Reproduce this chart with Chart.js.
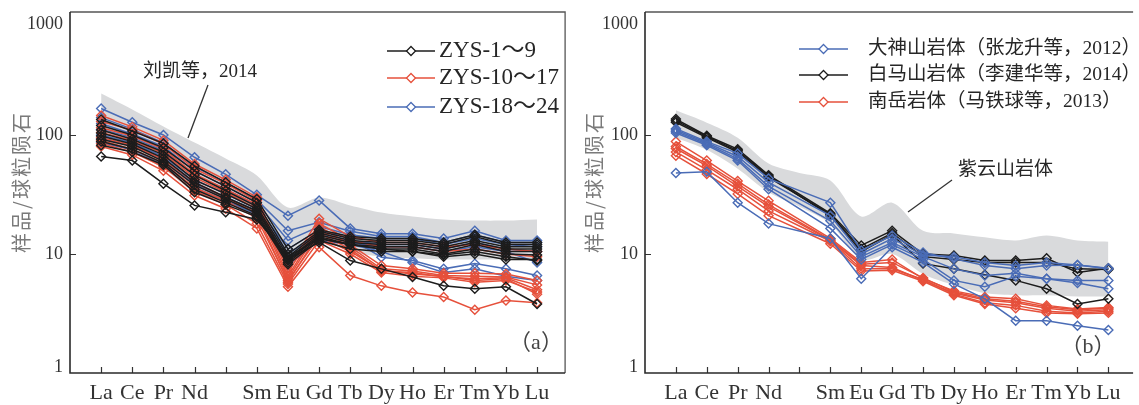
<!DOCTYPE html>
<html>
<head>
<meta charset="utf-8">
<script src="https://cdn.jsdelivr.net/npm/chart.js@4.4.1/dist/chart.umd.min.js"></script>
<style>
  html, body { margin: 0; padding: 0; background: #fff; }
  #wrap { position: relative; width: 1139px; height: 405px; overflow: hidden; }
  .panel { position: absolute; top: 0; height: 405px; }
</style>
</head>
<body>
<div id="wrap">
  <div class="panel" style="left:0;width:571px"><canvas id="chartA"></canvas></div>
  <div class="panel" style="left:571px;width:568px"><canvas id="chartB"></canvas></div>
</div>
<script>
// REE order on the x axis (Pm gets a tick but no label)
const ree = ['La', 'Ce', 'Pr', 'Nd', 'Pm', 'Sm', 'Eu', 'Gd', 'Tb', 'Dy', 'Ho', 'Er', 'Tm', 'Yb', 'Lu'];
const tickNames = ['La', 'Ce', 'Pr', 'Nd', '', 'Sm', 'Eu', 'Gd', 'Tb', 'Dy', 'Ho', 'Er', 'Tm', 'Yb', 'Lu'];
const yTicks = [1, 10, 100, 1000];
const posAll = [0, 1, 2, 3, 4, 5, 6, 7, 8, 9, 10, 11, 12, 13, 14];
const posNoPm = [0, 1, 2, 3, 5, 6, 7, 8, 9, 10, 11, 12, 13, 14];

// (a) ZYS samples, La..Lu incl. Pm
const zys1to9 = [
  [135, 108, 85, 55, 40, 29, 11, 16, 14, 13.5, 13.5, 12.5, 14.5, 12.5, 12.5],
  [120, 100, 78, 50, 37, 27, 10, 15.5, 13.5, 13, 13, 12, 14, 12, 12],
  [110, 92, 72, 46, 34, 25, 9.5, 15, 13, 12.5, 12.5, 11.5, 13, 11.5, 11.5],
  [104, 88, 68, 42, 32, 24, 9, 14.5, 12.5, 12, 12, 11, 12.5, 11, 11],
  [98, 84, 64, 40, 30, 23, 8.8, 14, 12, 11.5, 11.5, 10.5, 12, 10.5, 10.5],
  [92, 80, 60, 38, 29, 22, 8.5, 13.5, 12, 11, 11, 10, 11, 10, 9.8],
  [88, 76, 58, 35, 27, 21, 8.2, 13, 11, 10.5, 10.5, 9.5, 10, 9, 9],
  [82, 72, 56, 33, 26, 20.5, 9, 12.5, 8.8, 7.5, 6.4, 5.4, 5.1, 5.3, 3.8],
  [66, 61, 39, 25.6, 22.4, 19.5, 9.5, 13.5, 12, 11, 10.5, 9.8, 10.5, 9.5, 8.8]
];
const zys10to17 = [
  [146, 117, 90, 57, 42, 30, 7.5, 19.8, 14, 12.5, 12.5, 11.5, 12, 11, 10.5],
  [130, 110, 84, 52, 39, 28, 7, 18, 13, 11.5, 11.5, 10.5, 11, 10, 9.5],
  [115, 98, 76, 47, 35, 26, 6.5, 17, 12, 8, 7.5, 6.9, 6.9, 6.8, 6.0],
  [105, 90, 70, 44, 33, 24, 6.2, 16, 11.5, 7.5, 7.2, 6.6, 6.5, 6.4, 5.5],
  [95, 82, 62, 40, 30, 22, 5.8, 15, 11, 7.2, 7, 6.4, 6.2, 6.3, 5.0],
  [90, 76, 58, 36, 28, 20, 6, 14, 10.5, 7.3, 6.8, 6.5, 6.0, 6.2, 4.6],
  [85, 72, 54, 34, 26, 18, 5.6, 13, 10, 7.0, 6.5, 6.3, 5.8, 6.0, 4.8],
  [80, 68, 50, 31, 24, 16.4, 5.3, 11.4, 6.6, 5.4, 4.75, 4.35, 3.4, 4.06, 3.9]
];
const zys18to24 = [
  [167, 128, 100, 65, 46.7, 31.4, 21, 28.2, 16.4, 14.8, 14.8, 13.5, 15.7, 13, 13],
  [140, 112, 86, 54, 40, 28.5, 15.7, 18.5, 15.5, 14, 14, 12.5, 14.5, 12.5, 12.5],
  [125, 102, 80, 50, 37, 27, 13, 17, 14.5, 13.5, 13.5, 12, 13.5, 12, 11.5],
  [112, 95, 74, 46, 35, 25.5, 11, 16, 13.5, 9.4, 8.8, 7.5, 8.3, 7.5, 6.6],
  [100, 86, 66, 42, 32, 24, 10, 15, 13, 12, 12, 11, 12.5, 11, 10.5],
  [94, 82, 62, 39, 30, 23, 9, 14.5, 12.5, 11.5, 11.5, 10.5, 11.5, 10.5, 8.5],
  [86, 75, 57, 36, 28, 21.5, 8, 13, 12, 10.5, 8.5, 7, 7.5, 6.5, 6.0]
];
// 刘凯等 (2014) range
const liuLow = [90, 72, 52, 33, 26, 20, 8.5, 13, 10.5, 9.5, 9.2, 9, 9, 9, 9];
const liuHigh = [223, 164, 118, 86.5, 63.5, 45.7, 24.6, 29.8, 25.6, 22.3, 20.7, 19.5, 19.1, 19.1, 19.5];

// (b) regional plutons, La..Lu without Pm
const dashenshan = [
  [113, 88, 70, 43, 27, 10.7, 14.3, 10.3, 9.1, 8.0, 7.5, 8.0, 8.1, 7.5],
  [110, 86, 66, 40, 21, 10, 13.5, 9.8, 9.5, 8.5, 8.0, 8.5, 8.1, 7.6],
  [107, 84, 63, 37, 19, 9.5, 12.5, 9.5, 7.5, 6.6, 6.9, 6.2, 6.0, 6.0],
  [104, 82, 61, 35, 16.4, 9, 12, 9.0, 6.0, 5.3, 6.5, 6.2, 5.7, 5.1],
  [48, 49, 27, 18, 13.5, 6.2, 11.4, 8.5, 5.6, 4.2, 2.75, 2.75, 2.5, 2.3]
];
const baimashan = [
  [136, 98.5, 76, 46, 22, 11.8, 15.7, 10, 9.7, 8.8, 8.8, 9.2, 7.0, 7.6],
  [128, 95, 72, 44, 21.5, 11, 15, 9.5, 9.0, 8.5, 8.5, 8.5, 7.5, 7.4],
  [132, 97, 74, 45, 21, 10.5, 14.5, 8.3, 7.5, 6.7, 6.0, 5.1, 3.8, 4.2]
];
const nanyue = [
  [88, 61, 41, 28, 13.5, 8.5, 9.0, 6.2, 4.9, 4.35, 4.2, 3.7, 3.45, 3.55],
  [80, 57, 39, 26, 13.2, 8.2, 8.5, 6.3, 4.8, 4.2, 4.0, 3.6, 3.4, 3.5],
  [77, 55, 37, 25, 13, 8.0, 7.7, 6.0, 4.7, 4.1, 3.9, 3.5, 3.3, 3.4],
  [72, 51, 35, 23, 12.8, 7.5, 7.5, 6.1, 4.6, 3.9, 3.7, 3.3, 3.2, 3.3],
  [67, 47, 32, 21, 12.2, 7.2, 7.3, 5.9, 4.5, 3.8, 3.5, 3.2, 3.15, 3.2]
];
// 紫云山岩体 range
const ziyunLow = [95, 75, 52, 33, 25, 18, 9, 10, 6.8, 5.5, 4.7, 4.5, 4.5, 4.4, 4.4];
const ziyunHigh = [161, 127, 95, 57.6, 48, 41.5, 20.7, 27, 15.7, 14.9, 13.8, 13.0, 14.3, 13.0, 12.7];

const BLACK = '#1c1c1c', RED = '#e6503b', BLUE = '#4a6cb6', BAND = '#d9dadc';
const SERIF = '"Liberation Serif", "Noto Sans CJK SC"';

function lineSets(rows, pos, color, order) {
  return rows.map(r => ({
    data: r.map((v, i) => ({ x: pos[i], y: v })),
    borderColor: color,
    borderWidth: 1.5,
    pointStyle: 'rectRot',
    pointRadius: 4.5,
    pointBorderWidth: 1.4,
    pointBorderColor: color,
    pointBackgroundColor: 'rgba(255,255,255,0)',
    fill: false,
    tension: 0,
    order
  }));
}

function bandSets(low, high) {
  const pts = arr => arr.map((v, i) => ({ x: posAll[i], y: v }));
  return [
    { data: pts(low), borderColor: 'rgba(0,0,0,0)', borderWidth: 1, pointRadius: 0, fill: false, tension: 0.3, order: 50 },
    { data: pts(high), borderColor: 'rgba(0,0,0,0)', borderWidth: 1, pointRadius: 0, fill: '-1', backgroundColor: BAND, tension: 0.3, order: 49 }
  ];
}

function diamond(ctx, x, y, r, color) {
  ctx.beginPath();
  ctx.moveTo(x, y - r); ctx.lineTo(x + r, y); ctx.lineTo(x, y + r); ctx.lineTo(x - r, y);
  ctx.closePath();
  ctx.fillStyle = '#fff'; ctx.fill();
  ctx.strokeStyle = color; ctx.lineWidth = 1.3; ctx.stroke();
}

// frame, inward ticks, y labels, legend and notes
const decor = {
  id: 'decor',
  afterDraw(chart, args, o) {
    const { ctx, chartArea: a, scales: { x, y } } = chart;
    ctx.save();

    ctx.strokeStyle = '#333'; ctx.lineWidth = 1.2;
    ctx.beginPath();
    posAll.forEach(v => {
      const px = Math.round(x.getPixelForValue(v)) + 0.5;
      ctx.moveTo(px, a.bottom); ctx.lineTo(px, a.bottom - 6);
    });
    [10, 100].forEach(v => {
      const py = Math.round(y.getPixelForValue(v)) + 0.5;
      ctx.moveTo(a.left, py); ctx.lineTo(a.left + 6, py);
    });
    ctx.stroke();

    ctx.strokeStyle = '#555'; ctx.lineWidth = 1.3;
    ctx.beginPath();
    ctx.moveTo(a.left, a.top); ctx.lineTo(a.right, a.top);
    if (o.rightEdge) ctx.lineTo(a.right, a.bottom);
    ctx.stroke();
    ctx.strokeStyle = '#2a2a2a'; ctx.lineWidth = 1.6;
    ctx.beginPath();
    ctx.moveTo(a.left, a.top); ctx.lineTo(a.left, a.bottom); ctx.lineTo(a.right, a.bottom);
    ctx.stroke();

    // y tick labels, kept inside the frame at both ends
    ctx.fillStyle = '#333'; ctx.font = '18px ' + SERIF;
    ctx.textAlign = 'right'; ctx.textBaseline = 'middle';
    yTicks.forEach(v => {
      let py = y.getPixelForValue(v);
      py = Math.min(Math.max(py, a.top + 12), a.bottom - 6);
      ctx.fillText(String(v), a.left - 7, py);
    });

    // y title
    ctx.save();
    ctx.translate(o.titleX, 182);
    ctx.rotate(-Math.PI / 2);
    ctx.fillStyle = '#7a7a7a'; ctx.font = '20px "Noto Sans CJK SC"';
    ctx.letterSpacing = '2px';
    ctx.textAlign = 'center'; ctx.textBaseline = 'middle';
    ctx.fillText('样品/球粒陨石', 0, 0);
    ctx.restore();

    // legend
    const lg = o.legend;
    ctx.font = lg.font; ctx.textAlign = 'left'; ctx.textBaseline = 'middle';
    lg.items.forEach((it, i) => {
      const ly = lg.rows[i];
      ctx.strokeStyle = it.color; ctx.lineWidth = 1.4;
      ctx.beginPath(); ctx.moveTo(lg.x1, ly); ctx.lineTo(lg.x2, ly); ctx.stroke();
      diamond(ctx, (lg.x1 + lg.x2) / 2, ly, 4.5, it.color);
      ctx.fillStyle = '#262626';
      ctx.fillText(it.text, lg.tx, ly);
    });

    // range note with pointer
    const n = o.note;
    ctx.fillStyle = '#262626'; ctx.font = n.font;
    ctx.fillText(n.text, n.x, n.y);
    ctx.strokeStyle = '#333'; ctx.lineWidth = 1.3;
    ctx.beginPath(); ctx.moveTo(n.line[0], n.line[1]); ctx.lineTo(n.line[2], n.line[3]); ctx.stroke();

    // panel tag
    ctx.font = '22px ' + SERIF; ctx.fillStyle = '#444'; ctx.textAlign = 'center';
    ctx.fillText(o.tag.text, o.tag.x, o.tag.y);
    ctx.restore();
  }
};

function makeChart(id, p) {
  return new Chart(document.getElementById(id), {
    type: 'line',
    data: { datasets: [...bandSets(p.band[0], p.band[1]), ...p.lines] },
    options: {
      responsive: true,
      maintainAspectRatio: false,
      devicePixelRatio: 1,
      animation: false,
      layout: { padding: { left: 0, right: p.padRight, top: 12, bottom: 0 } },
      scales: {
        x: {
          type: 'linear', min: -1, max: p.xMax,
          afterBuildTicks: s => { s.ticks = posAll.map(v => ({ value: v })); },
          afterFit: s => { s.height = 32; },
          grid: { display: false, drawTicks: false },
          border: { display: false },
          ticks: {
            autoSkip: false, maxRotation: 0, minRotation: 0, padding: 7,
            color: '#333', font: { family: 'Liberation Serif', size: 22 },
            callback: v => tickNames[v] ?? ''
          }
        },
        y: {
          type: 'logarithmic', min: 1, max: 1080,
          afterBuildTicks: s => { s.ticks = yTicks.map(v => ({ value: v })); },
          afterFit: s => { s.width = p.yAxisW; },
          grid: { display: false, drawTicks: false },
          border: { display: false },
          ticks: { display: false }
        }
      },
      plugins: { legend: { display: false }, tooltip: { enabled: false }, decor: p.decor }
    },
    plugins: [decor]
  });
}

makeChart('chartA', {
  band: [liuLow, liuHigh],
  lines: [
    ...lineSets(zys18to24, posAll, BLUE, 3),
    ...lineSets(zys10to17, posAll, RED, 2),
    ...lineSets(zys1to9, posAll, BLACK, 1)
  ],
  padRight: 3, xMax: 14.9, yAxisW: 70,
  decor: {
    rightEdge: true, titleX: 21,
    legend: {
      x1: 387, x2: 435, tx: 439, rows: [51, 78, 107], font: '23px ' + SERIF,
      items: [
        { color: BLACK, text: 'ZYS-1～9' },
        { color: RED, text: 'ZYS-10～17' },
        { color: BLUE, text: 'ZYS-18～24' }
      ]
    },
    note: { text: '刘凯等，2014', x: 143, y: 72, font: '19px ' + SERIF, line: [208, 85, 188, 138] },
    tag: { text: '（a）', x: 536, y: 343 }
  }
});

makeChart('chartB', {
  band: [ziyunLow, ziyunHigh],
  lines: [
    ...lineSets(nanyue, posNoPm, RED, 3),
    ...lineSets(baimashan, posNoPm, BLACK, 2),
    ...lineSets(dashenshan, posNoPm, BLUE, 1)
  ],
  padRight: 0, xMax: 14.8, yAxisW: 74,
  decor: {
    rightEdge: false, titleX: 23,
    legend: {
      x1: 228, x2: 277, tx: 297, rows: [49, 75, 102], font: '19.5px ' + SERIF,
      items: [
        { color: BLUE, text: '大神山岩体（张龙升等，2012）' },
        { color: BLACK, text: '白马山岩体（李建华等，2014）' },
        { color: RED, text: '南岳岩体（马铁球等，2013）' }
      ]
    },
    note: { text: '紫云山岩体', x: 387, y: 170, font: '19px ' + SERIF, line: [381, 180, 337, 212] },
    tag: { text: '（b）', x: 517, y: 347 }
  }
});
</script>
</body>
</html>
